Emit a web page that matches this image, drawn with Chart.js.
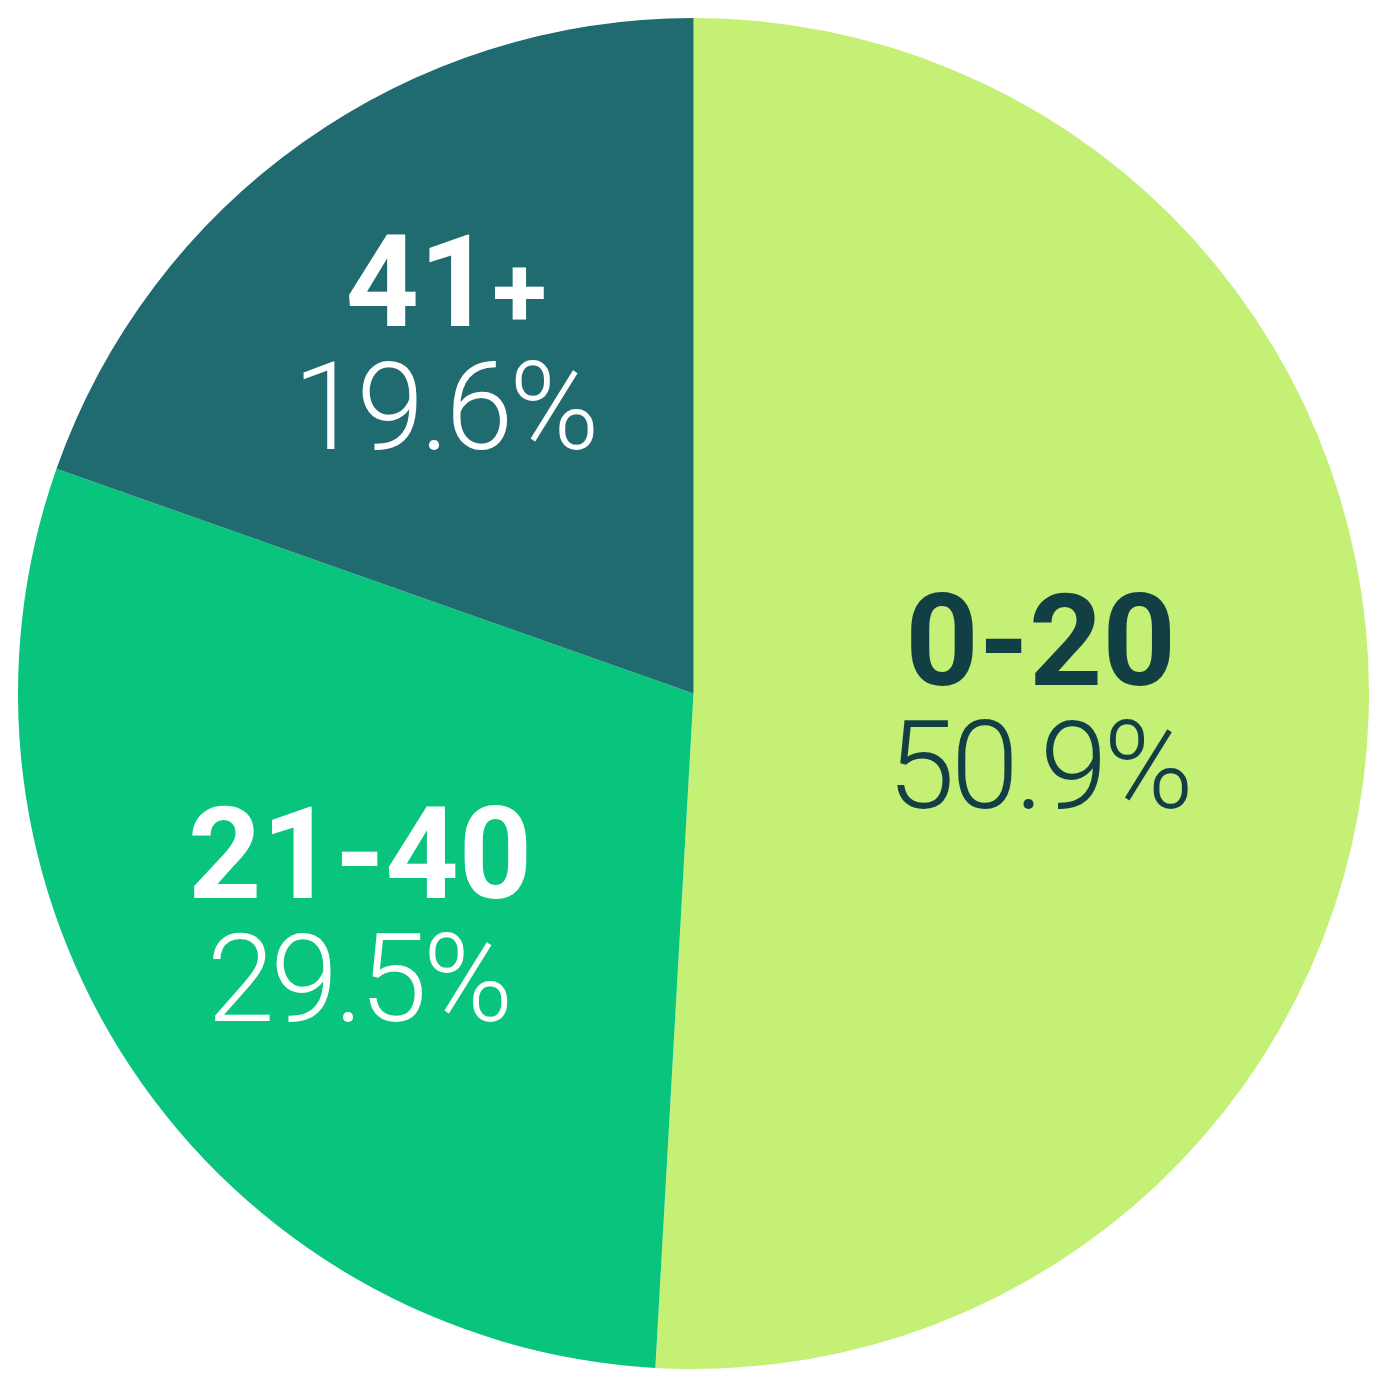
<!DOCTYPE html>
<html>
<head>
<meta charset="utf-8">
<script src="https://cdn.jsdelivr.net/npm/chart.js@4"></script>
<style>
  html, body { margin: 0; padding: 0; background: #fff; }
  #wrap { width: 1387px; height: 1387px; }
</style>
</head>
<body>
<div id="wrap"><canvas id="agePie"></canvas></div>
<script>
// data
const categories = ["0-20", "21-40", "41+"];
const shares = [50.9, 29.5, 19.6];
const sliceColors = ["#c3f075", "#08c47c", "#1f6b70"];
const labelColors = ["#123f43", "#ffffff", "#ffffff"];
const labelRadius = [0.514, 0.593, 0.634]; // how far out from the centre each label sits

// draws the two-line label (name + percentage) inside every slice
const sliceLabels = {
  id: "sliceLabels",
  afterDatasetsDraw(chart) {
    const ctx = chart.ctx;
    const meta = chart.getDatasetMeta(0);
    meta.data.forEach((arc, i) => {
      const mid = (arc.startAngle + arc.endAngle) / 2;
      const r = arc.outerRadius * labelRadius[i];
      const x = arc.x + Math.cos(mid) * r;
      const y = arc.y + Math.sin(mid) * r;
      ctx.save();
      ctx.fillStyle = labelColors[i];
      ctx.textBaseline = "alphabetic";
      ctx.textAlign = "left";

      // a trailing "+" is set smaller, as in the original
      let name = chart.data.labels[i];
      let tail = "";
      if (name.endsWith("+")) { tail = "+"; name = name.slice(0, -1); }
      ctx.font = "bold 128px Roboto";
      const w1 = ctx.measureText(name).width;
      ctx.font = "bold 100px Roboto";
      const w2 = tail ? ctx.measureText(tail).width : 0;
      const x0 = x - (w1 + w2) / 2;
      ctx.font = "bold 128px Roboto";
      ctx.fillText(name, x0, y - 18);
      if (tail) {
        ctx.font = "bold 100px Roboto";
        ctx.fillText(tail, x0 + w1, y - 18);
      }

      ctx.textAlign = "center";
      ctx.font = "300 122px Roboto";
      ctx.letterSpacing = "-4px";
      ctx.fillText(chart.data.datasets[0].data[i].toFixed(1) + "%", x - 2, y + 105);
      ctx.restore();
    });
  }
};

new Chart(document.getElementById("agePie"), {
  type: "pie",
  data: {
    labels: categories,
    datasets: [{
      data: shares,
      backgroundColor: sliceColors,
      borderWidth: 0
    }]
  },
  options: {
    responsive: true,
    maintainAspectRatio: false,
    animation: false,
    layout: { padding: 18 },
    plugins: {
      legend: { display: false },
      tooltip: { enabled: false }
    }
  },
  plugins: [sliceLabels]
});
</script>
</body>
</html>
